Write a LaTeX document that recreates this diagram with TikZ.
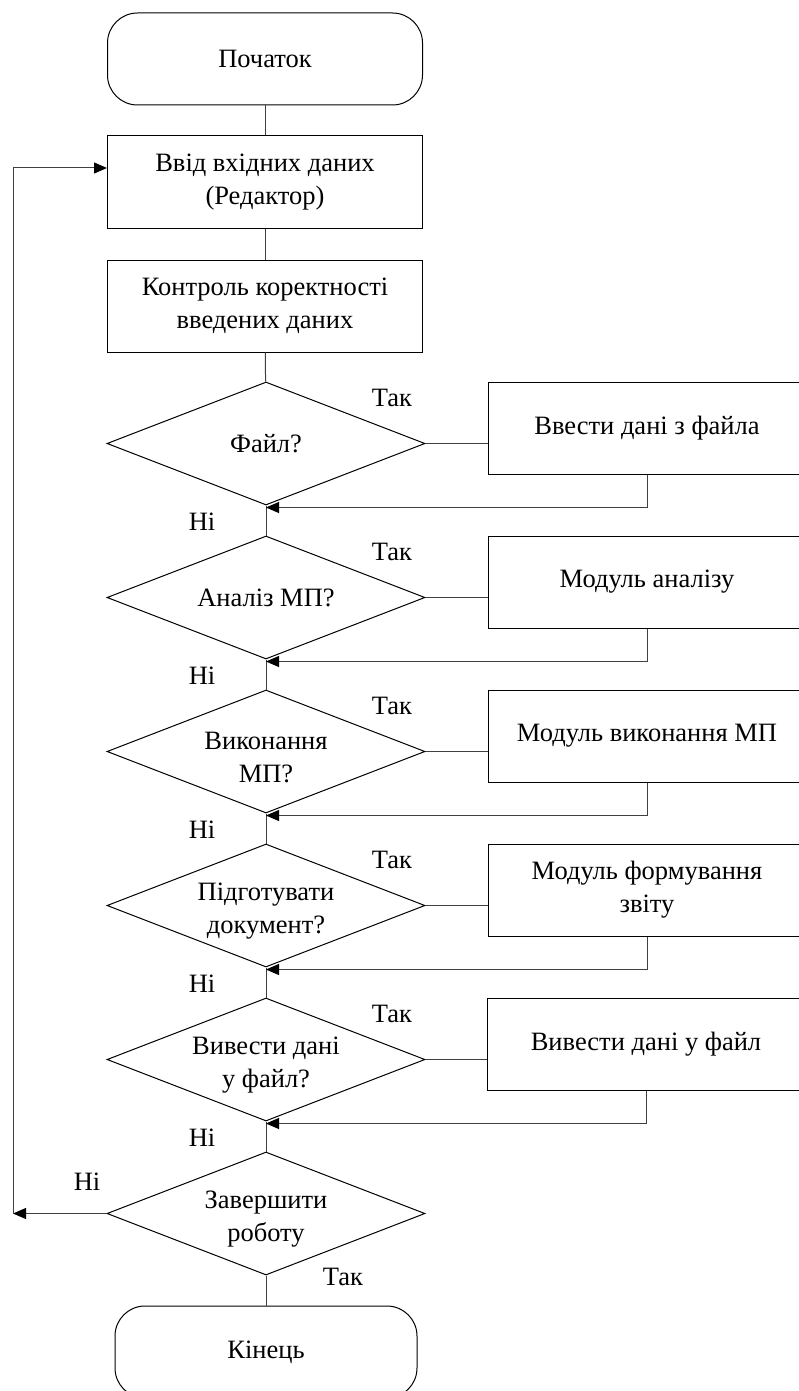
\documentclass[tikz,border=0pt]{standalone}
\usepackage{fontspec}
\setmainfont{Liberation Serif}
\usetikzlibrary{shapes.geometric,arrows.meta,calc}
\begin{document}
\begin{tikzpicture}[x=1pt,y=-1pt,
  base/.style={draw=black, line width=1pt, align=center, font=\fontsize{26.5}{33}\selectfont, inner sep=0pt},
  term/.style={base, rectangle, rounded corners=30pt, minimum width=315pt, minimum height=92pt},
  proc/.style={base, rectangle, minimum width=315pt, minimum height=92pt},
  side/.style={base, rectangle, minimum width=318pt, minimum height=92pt},
  dec/.style={base, diamond, minimum width=318pt, minimum height=123pt, shape aspect=2.6},
  dtext/.style={label={[font=\fontsize{26.5}{33}\selectfont, align=center, inner sep=0pt, yshift=-6pt]center:#1}},
  conn/.style={draw=black!75, line width=1pt},
  arr/.style={conn, -{Triangle[length=13pt,width=11pt,color=black]}},
  lbl/.style={font=\fontsize{26.5}{33}\selectfont, inner sep=0pt}
]
\clip (0,0) rectangle (799,1391);

\node[term] (start) at (265,59) {Початок};
\node[proc] (vvid) at (265,182) {Ввід вхідних даних\\(Редактор)};
\node[proc] (kontr) at (265,306) {Контроль коректності\\введених даних};

\node[dec] (d1) at (266,443.5) {Файл?};
\node[dec] (d2) at (266,597.5) {Аналіз МП?};
\node[dec, dtext={Виконання\\МП?}] (d3) at (266,751.5) {};
\node[dec, dtext={Підготувати\\документ?}] (d4) at (266,905.5) {};
\node[dec, dtext={Вивести дані\\у файл?}] (d5) at (266,1059.5) {};
\node[dec, dtext={Завершити\\роботу}] (d6) at (266,1213.5) {};

\node[side] (s1) at (647,428) {Ввести дані з файла};
\node[side] (s2) at (647,582) {Модуль аналізу};
\node[side] (s3) at (647,736) {Модуль виконання МП};
\node[side] (s4) at (647,890) {Модуль формування\\звіту};
\node[side] (s5) at (646,1044) {Вивести дані у файл};

\node[term, minimum width=302pt] (fin) at (266,1352) {Кінець};

% main column
\draw[conn] (start) -- (vvid);
\draw[conn] (vvid) -- (kontr);
\draw[conn] (kontr) -- (d1);
\draw[conn] (d1) -- (d2);
\draw[conn] (d2) -- (d3);
\draw[conn] (d3) -- (d4);
\draw[conn] (d4) -- (d5);
\draw[conn] (d5) -- (d6);
\draw[conn] (d6) -- (fin);

% yes branches
\foreach \i in {1,...,5}{
  \draw[conn] (d\i.east) -- (d\i.east -| s\i.west);
  \coordinate (j\i) at ($(d\i.south)+(0,2)$);
  \draw[arr] (s\i.south) |- (j\i);
}

% loop back
\coordinate (lp) at (13,1213.5);
\draw[arr] (d6.west) -- (lp);
\draw[arr] (lp) |- ($(vvid.west)+(0,-14)$);

% labels
\node[lbl] (t1) at (392,398) {Так};
\node[lbl] (t2) at (392,552) {Так};
\node[lbl] (t3) at (392,706) {Так};
\node[lbl] (t4) at (392,860) {Так};
\node[lbl] (t5) at (392,1014) {Так};
\node[lbl] (t6) at (343,1277) {Так};
\node[lbl] (n1) at (202,522) {Ні};
\node[lbl] (n2) at (202,676) {Ні};
\node[lbl] (n3) at (202,830) {Ні};
\node[lbl] (n4) at (202,984) {Ні};
\node[lbl] (n5) at (202,1138) {Ні};
\node[lbl] (n6) at (87,1182) {Ні};
\end{tikzpicture}
\end{document}
